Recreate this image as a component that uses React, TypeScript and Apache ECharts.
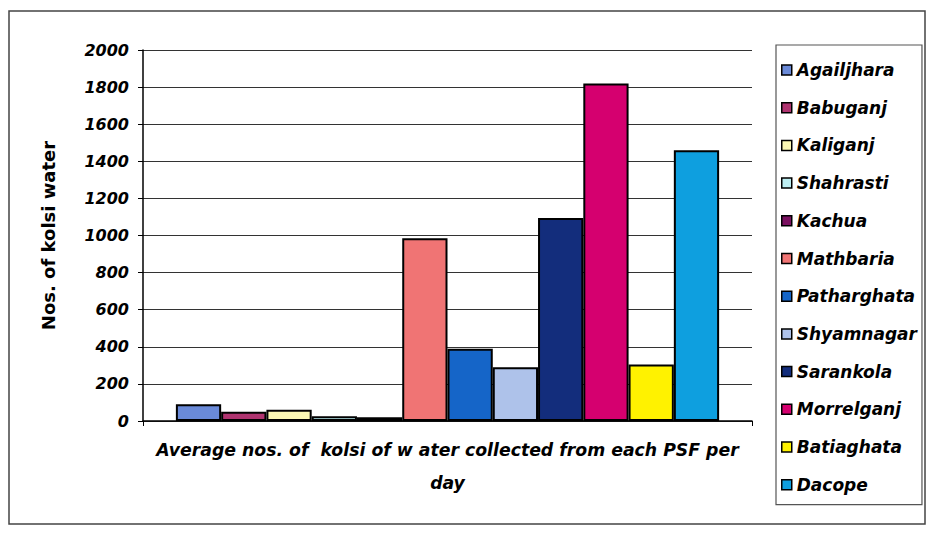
import React, { useEffect, useRef } from "react";
import * as echarts from "echarts";

// Upazila names, one bar each
const locations = [
  "Agailjhara",
  "Babuganj",
  "Kaliganj",
  "Shahrasti",
  "Kachua",
  "Mathbaria",
  "Patharghata",
  "Shyamnagar",
  "Sarankola",
  "Morrelganj",
  "Batiaghata",
  "Dacope",
];

// Average kolsi of water collected per PSF per day
const kolsiPerDay = [90, 50, 60, 25, 20, 985, 390, 290, 1095, 1820, 305, 1460];

// Single category shown under the bars
const categories = [
  "Average nos. of  kolsi of w ater collected from each PSF per\nday",
];

const barColors = [
  "#6a8ad8",
  "#b03470",
  "#fbf8b4",
  "#bdeef2",
  "#7a1060",
  "#f07474",
  "#1565c8",
  "#aec2ea",
  "#132d7c",
  "#d5006f",
  "#fff200",
  "#0e9fdf",
];

const FONT = '"DejaVu Sans", Arial, sans-serif';

export default function App() {
  const ref = useRef<HTMLDivElement>(null);

  useEffect(() => {
    if (!ref.current) return;
    const chart = echarts.init(ref.current, undefined, { renderer: "svg" });

    const series = locations.map((name, i) => ({
      name,
      type: "bar" as const,
      data: [kolsiPerDay[i]],
      barGap: "0%",
      barCategoryGap: "10.8%",
      itemStyle: {
        color: barColors[i],
        borderColor: "#000",
        borderWidth: 2,
      },
    }));

    chart.setOption({
      animation: false,
      backgroundColor: "#fff",
      textStyle: { fontFamily: FONT },
      graphic: [
        {
          type: "rect",
          shape: { x: 9, y: 11, width: 916, height: 513 },
          style: { fill: "none", stroke: "#444", lineWidth: 1.5 },
          silent: true,
        },
      ],
      grid: { left: 143, right: 177, top: 50, bottom: 112 },
      legend: {
        orient: "vertical",
        left: 776,
        top: 45,
        data: locations,
        icon: "rect",
        itemWidth: 10,
        itemHeight: 10,
        itemGap: 19.7,
        padding: [16, 5, 11, 5],
        borderColor: "#555",
        borderWidth: 1.2,
        itemStyle: { borderColor: "#000", borderWidth: 1.5 },
        textStyle: {
          fontFamily: FONT,
          fontSize: 17,
          fontStyle: "italic",
          fontWeight: "bold",
          color: "#000",
          lineHeight: 18,
          padding: [0, 0, 0, 0],
        },
      },
      xAxis: {
        type: "category",
        data: categories,
        axisLine: { show: true, lineStyle: { color: "#000", width: 1.5 } },
        axisTick: { show: true, length: 5, lineStyle: { color: "#000" } },
        axisLabel: {
          margin: 12,
          fontFamily: FONT,
          fontSize: 17.3,
          fontStyle: "italic",
          fontWeight: "bold",
          color: "#000",
          lineHeight: 33,
          align: "center",
        },
      },
      yAxis: {
        type: "value",
        min: 0,
        max: 2000,
        interval: 200,
        name: "Nos. of kolsi water",
        nameLocation: "middle",
        nameGap: 86,
        nameRotate: 90,
        nameTextStyle: {
          fontFamily: FONT,
          fontSize: 18,
          fontWeight: "bold",
          color: "#000",
        },
        axisLine: { show: true, lineStyle: { color: "#000", width: 1.5 } },
        axisTick: { show: true, length: 5, lineStyle: { color: "#000" } },
        axisLabel: {
          margin: 14,
          fontFamily: FONT,
          fontSize: 16,
          fontStyle: "italic",
          fontWeight: "bold",
          color: "#000",
          formatter: (v: number) => String(v),
        },
        splitLine: { show: true, lineStyle: { color: "#333", width: 1 } },
      },
      series,
    });

    return () => chart.dispose();
  }, []);

  return (
    <div
      ref={ref}
      style={{ position: "fixed", left: 0, top: 0, width: 929, height: 533 }}
    />
  );
}
